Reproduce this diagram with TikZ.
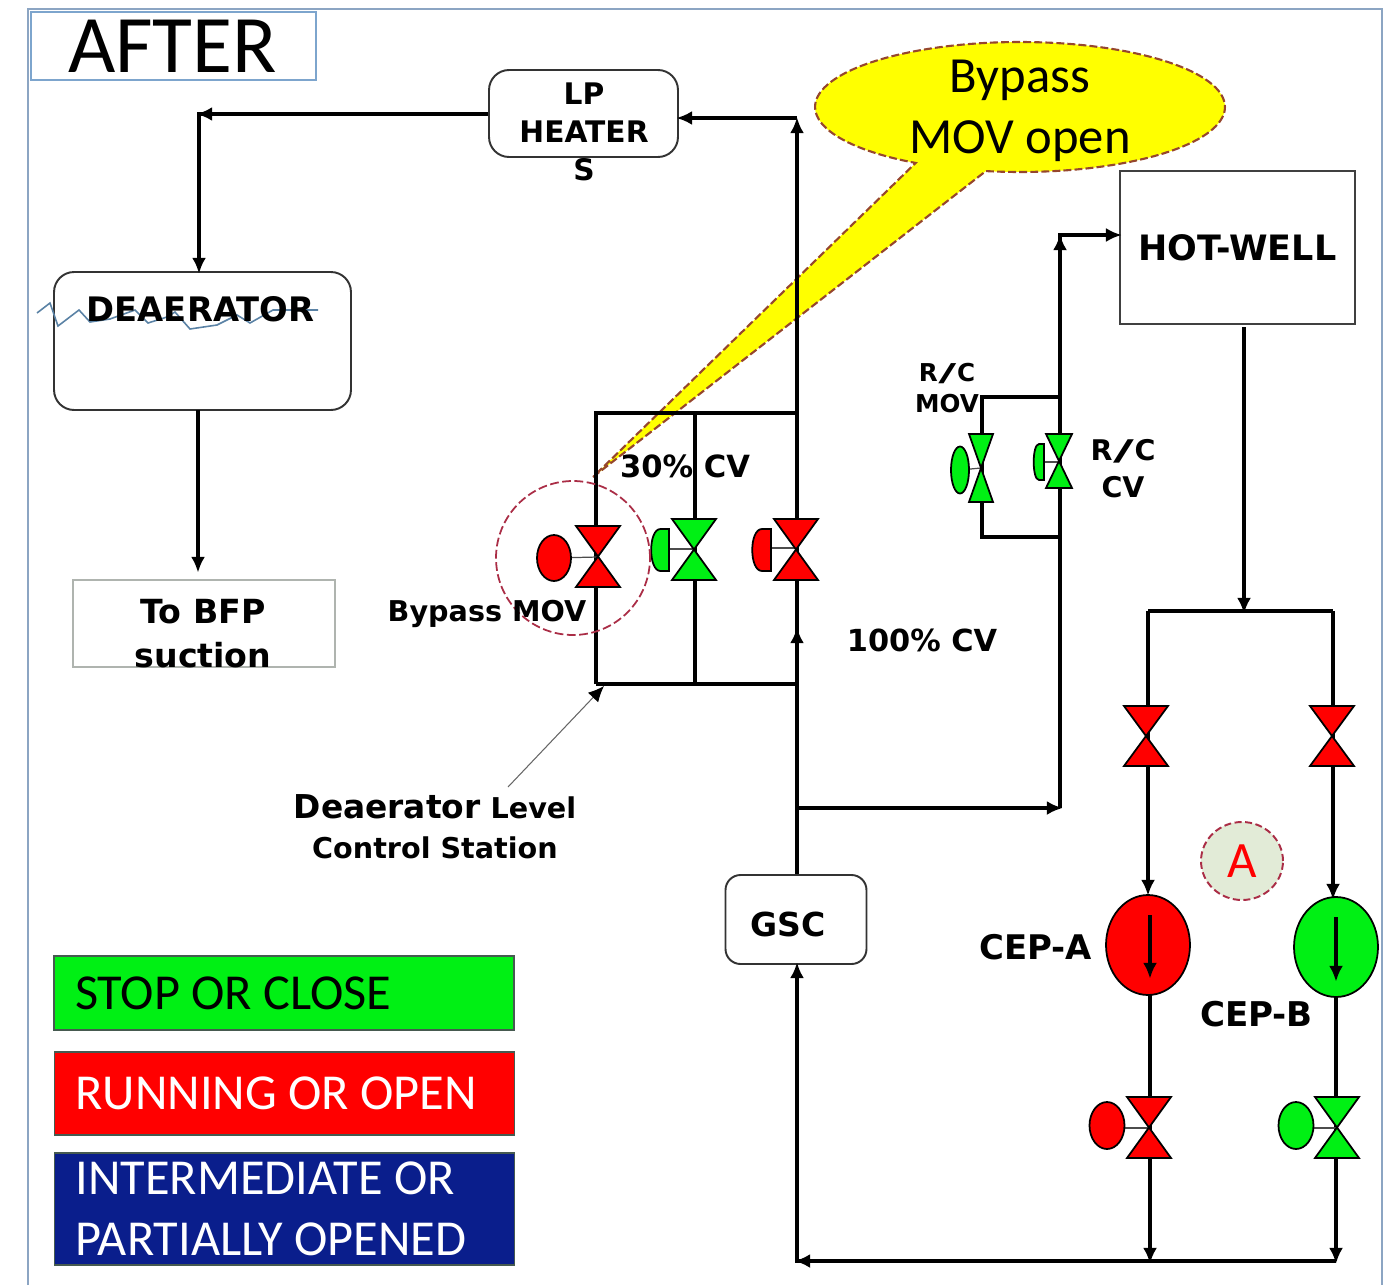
\documentclass[tikz,border=0pt]{standalone}
\usepackage{fontspec}
\setmainfont{Carlito}
\newfontfamily\labelfont{DejaVu Sans}
\usetikzlibrary{arrows.meta,shapes.geometric,shapes.callouts}
\definecolor{frameblue}{RGB}{140, 165, 195}
\definecolor{afterblue}{RGB}{125, 165, 205}
\definecolor{boxgray}{RGB}{175, 180, 175}
\definecolor{wiggleblue}{RGB}{90, 130, 165}
\definecolor{dashbrown}{RGB}{150, 70, 45}
\definecolor{dashred}{RGB}{170, 45, 70}
\definecolor{calloutyellow}{RGB}{255, 255, 0}
\definecolor{stopgreen}{RGB}{0, 240, 20}
\definecolor{runred}{RGB}{255, 0, 0}
\definecolor{midblue}{RGB}{10, 30, 140}
\definecolor{legendedge}{RGB}{70, 90, 80}
\definecolor{tagfill}{RGB}{226, 235, 215}
\newcommand{\tagfont}[2]{\fontsize{#1}{#2}\selectfont\labelfont\bfseries}
\newcommand{\rc}{R\kern0.4pt\scalebox{2}[1]{/}\kern0.4pt C}
% valve: name, x, y, half width, half height, colour
\newcommand{\valve}[6]{
    \node[coordinate] (#1) at (#2,#3) {};
    \draw[valvebody,fill=#6,shift={(#2,#3)}] (-#4,-#5) -- (#4,-#5) -- (-#4,#5) -- (#4,#5) -- cycle;
}
% half round actuator: right edge x, y, width, half height, colour
\newcommand{\halfhead}[5]{
    \draw[valvebody,fill=#5,shift={(#1,#2)}] (0,-#4) -- (-0.45*#3,-#4)
        .. controls (-1.1*#3,-#4) and (-1.1*#3,#4) .. (-0.45*#3,#4) -- (0,#4) -- cycle;
}
\begin{document}
\begin{tikzpicture}[
        x=0.02cm,
        y=-0.02cm,
        >={Latex[length=9pt,width=8pt]},
        pipe/.style={black,line width=2pt},
        flow/.style={pipe,->,shorten >=-1.5pt},
        stem/.style={black!70,line width=0.7pt},
        valvebody/.style={black,line width=1pt,line join=miter},
        movhead/.style={draw=black,line width=1pt,ellipse,inner sep=0pt},
        block/.style={draw=black!80,line width=1.1pt,rounded corners=0.4cm,inner sep=0pt,fill=white},
        plainbox/.style={draw=black!75,line width=1pt,inner sep=0pt,fill=white},
        legendbox/.style={draw=legendedge,line width=1pt,minimum width=9.2cm,text width=8.36cm,inner xsep=0.42cm,inner ysep=0pt,align=flush left,font=\fontsize{28.65}{34.5}\selectfont},
        tag/.style={inner sep=0pt,align=center}
    ]
    \useasboundingbox (0,0) rectangle (1393,1285);

    \draw[frameblue,line width=1.2pt] (28,1285) -- (28,9) -- (1382,9) -- (1382,1285);
    \node[draw=afterblue,line width=1.2pt,minimum width=5.7cm,minimum height=1.36cm,text width=4.22cm,inner xsep=0.74cm,inner ysep=0pt,align=flush left,font=\fontsize{46.5}{50}\selectfont] (after) at (173.5,46) {\raisebox{-1.5pt}{AFTER}};

    % callout first, the pipes run over it
    \node[ellipse callout,draw=dashbrown,fill=calloutyellow,dash pattern=on 4.5pt off 1.8pt,line width=1.2pt,minimum width=8.2cm,minimum height=2.6cm,inner sep=0pt,callout absolute pointer={(593,477)},callout pointer arc=21] (bypasscall) at (1020,107) {};
    \node[tag,font=\fontsize{28.8}{34.6}\selectfont] (bypasstext) at (1020,111) {Bypass\\MOV open};

    \node[block,minimum width=3.78cm,minimum height=1.74cm] (heater) at (583.5,113.5) {};
    \node[block,minimum width=5.94cm,minimum height=2.76cm] (deaerator) at (202.5,341) {};
    \node[draw=boxgray,line width=0.8pt,minimum width=5.24cm,minimum height=1.74cm,inner sep=0pt] (bfp) at (204,623.5) {};
    \node[plainbox,minimum width=4.7cm,minimum height=3.06cm,font=\tagfont{19.9}{24}] (hotwell) at (1237.5,247.5) {HOT-WELL};
    \node[block,rounded corners=0.3cm,minimum width=2.82cm,minimum height=1.78cm] (gsc) at (796,919.5) {};

    \coordinate (heaterleft) at (199,114);
    \coordinate (heaterright) at (797,118);
    \coordinate (boxtopleft) at (596,413);
    \coordinate (boxtopmid) at (695,413);
    \coordinate (boxtopright) at (797,413);
    \coordinate (boxlowleft) at (596,684);
    \coordinate (boxlowmid) at (695,684);
    \coordinate (boxlowright) at (797,684);
    \coordinate (recircfoot) at (797,808);
    \coordinate (recirccorner) at (1060,808);
    \coordinate (recirctop) at (1060,235);
    \coordinate (rctopright) at (1060,397);
    \coordinate (rctopleft) at (982,397);
    \coordinate (rclowright) at (1060,537);
    \coordinate (rclowleft) at (982,537);
    \coordinate (headerleft) at (1148,611);
    \coordinate (headermid) at (1244,611);
    \coordinate (headerright) at (1333,611);
    \coordinate (returnleft) at (797,1261);
    \coordinate (returna) at (1150,1261);
    \coordinate (returnb) at (1336,1261);
    \coordinate (bfptop) at (198,570);
    \coordinate (notefoot) at (508,787);
    \coordinate (notetip) at (604,686);

    % main condensate line
    \draw[flow] (heater.west |- heaterleft) -- (heaterleft) -- (199,271);
    \draw[flow] (240,114) -- (heaterleft);
    \draw[flow] (198,410) -- (bfptop);
    \draw[flow] (gsc.north -| recircfoot) -- (797,120);
    \draw[flow] (797,670) -- (797,630);
    \draw[flow] (heaterright) -- (heater.east |- heaterright);
    \draw[pipe] (boxlowleft) -- (boxtopleft) -- (boxtopright);
    \draw[pipe] (boxtopmid) -- (boxlowmid);
    \draw[pipe] (boxlowleft) -- (boxlowright);

    % recirculation
    \draw[flow] (recircfoot) -- (recirccorner);
    \draw[flow] (recirccorner) -- (recirctop) -- (hotwell.west |- recirctop);
    \draw[flow] (1060,280) -- (1060,237);
    \draw[pipe] (rctopright) -- (rctopleft) -- (rclowleft) -- (rclowright);

    % hot-well to pumps and back
    \draw[flow] (1244,327) -- (headermid);
    \draw[pipe] (headerleft) -- (headerright);
    \draw[flow] (headerleft) -- (1148,893);
    \draw[flow] (headerright) -- (1333,897);
    \draw[flow] (1150,995) -- (returna);
    \draw[flow] (1336,997) -- (returnb);
    \draw[flow] (returnb) -- (returnleft) -- (gsc.south -| returnleft);
    \draw[flow] (840,1261) -- (returnleft);

    \draw[black!60,line width=0.6pt,-{Latex[black,length=9pt,width=8pt]}] (notefoot) -- (notetip);

    % deaerator level trace
    \draw[wiggleblue,line width=0.9pt] (37,313) -- (50,303) -- (58,326) -- (79,310) -- (90,322) -- (110,319) -- (135,310) -- (148,323) -- (167,317) -- (175,312) -- (190,329) -- (217,325) -- (237,315) -- (250,323) -- (273,310) -- (318,310);

    % level control station
    \draw[stem] (554,558) -- (598,557);
    \draw[stem] (669,549) -- (694,549);
    \draw[stem] (771,548) -- (796,548);
    \node[movhead,fill=runred,minimum width=0.68cm,minimum height=0.92cm] (bypasshead) at (554,558) {};
    \valve{bypassvalve}{598}{556.5}{22}{30.5}{runred}
    \halfhead{669}{550}{19}{21}{stopgreen}
    \valve{smallcv}{694}{549.5}{22}{30.5}{stopgreen}
    \halfhead{771}{550}{20}{21}{runred}
    \valve{largecv}{796}{549.5}{22}{30.5}{runred}

    % recirculation valves
    \draw[stem] (960,470) -- (981,468);
    \draw[stem] (1044,462) -- (1059,462);
    \node[movhead,fill=stopgreen,minimum width=0.36cm,minimum height=0.94cm] (rcmovhead) at (960,470) {};
    \valve{rcmov}{981}{468}{12}{34}{stopgreen}
    \halfhead{1044}{462}{11}{18}{stopgreen}
    \valve{rccv}{1059}{461}{13}{27}{stopgreen}

    % pump suction valves
    \valve{suctiona}{1146}{736}{22}{30}{runred}
    \valve{suctionb}{1332}{736}{22}{30}{runred}

    % pumps
    \node[movhead,fill=runred,minimum width=1.68cm,minimum height=2cm] (cepa) at (1148,945) {};
    \node[movhead,fill=stopgreen,minimum width=1.68cm,minimum height=2cm] (cepb) at (1336,947) {};
    \draw[flow] (1150,915) -- (1150,976);
    \draw[flow] (1336,917) -- (1336,979);

    % pump discharge valves
    \draw[stem] (1107,1128) -- (1149,1128);
    \draw[stem] (1296,1128) -- (1337,1128);
    \node[movhead,fill=runred,minimum width=0.7cm,minimum height=0.94cm] (dischheada) at (1107,1125.5) {};
    \node[movhead,fill=stopgreen,minimum width=0.7cm,minimum height=0.94cm] (dischheadb) at (1296,1125.5) {};
    \valve{discha}{1149}{1127.5}{22}{30.5}{runred}
    \valve{dischb}{1337}{1127.5}{22}{30.5}{stopgreen}

    \node[draw=dashred,dash pattern=on 5pt off 2pt,line width=1pt,circle,minimum size=3.08cm,inner sep=0pt] (bypassring) at (573,558) {};
    \node[draw=dashred,dash pattern=on 4pt off 2pt,line width=1.1pt,fill=tagfill,ellipse,minimum width=1.64cm,minimum height=1.56cm,inner sep=0pt,text=runred,font=\fontsize{29}{32}\selectfont] (tagA) at (1242,861) {A};

    % labels
    \node[tag,font=\tagfont{16.9}{21.6}] (heatertext) at (584,131.5) {LP\\HEATER\\S};
    \node[tag,font=\tagfont{19.2}{24}] (deaeratortext) at (200.5,309) {DEAERATOR};
    \node[tag,font=\tagfont{18.9}{25}] (bfptext) at (203,634) {To BFP\\suction};
    \node[tag,font=\tagfont{18.8}{24}] (gsctext) at (788,924) {GSC};
    \node[tag,font=\tagfont{17.4}{21}] (smallcvtext) at (685,466) {30\% CV};
    \node[tag,font=\tagfont{16.3}{20}] (bypasstag) at (487,613.5) {Bypass MOV};
    \node[tag,font=\tagfont{17.3}{21}] (largecvtext) at (922,640) {100\% CV};
    \node[tag,font=\tagfont{14}{18}] (rcmovtext) at (947,388) {\rc\\MOV};
    \node[tag,font=\tagfont{16.2}{21}] (rccvtext) at (1123,469) {\rc\\CV};
    \node[tag,font=\tagfont{16.3}{22.6}] (stationtext) at (435,827) {{\fontsize{18.7}{22.6}\selectfont Deaerator} Level\\Control Station};
    \node[tag,font=\tagfont{19.3}{24}] (cepatext) at (1035.5,947) {CEP-A};
    \node[tag,font=\tagfont{19.4}{24}] (cepbtext) at (1256.5,1014) {CEP-B};

    % legend
    \node[legendbox,fill=stopgreen,minimum height=1.48cm] (legendstop) at (284,993) {\raisebox{-0.8pt}{STOP OR CLOSE}};
    \node[legendbox,fill=runred,text=white,minimum height=1.66cm] (legendrun) at (284.5,1093.5) {\raisebox{-0.8pt}{RUNNING OR OPEN}};
    \node[legendbox,fill=midblue,text=white,minimum height=2.24cm] (legendmid) at (284.5,1209) {INTERMEDIATE OR\\PARTIALLY OPENED};
\end{tikzpicture}
\end{document}
